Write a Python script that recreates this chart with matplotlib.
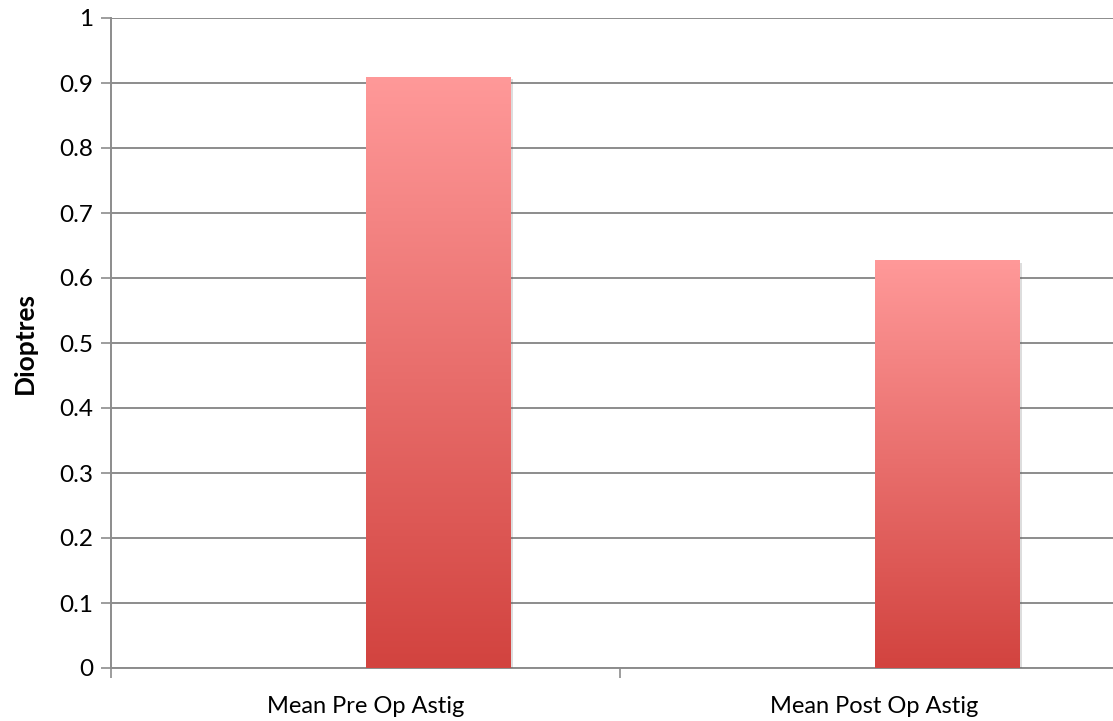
import matplotlib.pyplot as plt
import numpy as np
from matplotlib.colors import LinearSegmentedColormap
from matplotlib import patheffects

# データ
categories = ["Mean Pre Op Astig", "Mean Post Op Astig"]
values = [0.91, 0.628]
y_ticks = [0, 0.1, 0.2, 0.3, 0.4, 0.5, 0.6, 0.7, 0.8, 0.9, 1]
y_tick_labels = ["0", "0.1", "0.2", "0.3", "0.4", "0.5", "0.6", "0.7", "0.8", "0.9", "1"]

plt.rcParams["font.family"] = ["Lato", "DejaVu Sans"]

fig = plt.figure(figsize=(11.13, 7.21), dpi=100)
# 右端は図の外まで伸びる
ax = fig.add_axes([111 / 1113, 53 / 721, 1018 / 1113, 650 / 721])

x = np.arange(len(categories))
bar_w = 145 / 509

# 2系列の棒グラフの右側の系列だけが見えている形
bars = ax.bar(x, values, width=bar_w, align="edge", color="#f08080", zorder=3,
              linewidth=0)

# グラデーション
cmap = LinearSegmentedColormap.from_list("grad", ["#d2433f", "#ff9999"])
grad = np.linspace(0, 1, 256).reshape(-1, 1)
for b in bars:
    x0, y0 = b.get_x(), b.get_y()
    w, h = b.get_width(), b.get_height()
    b.set_path_effects([patheffects.SimplePatchShadow(offset=(2, -2), alpha=0.2,
                                                       shadow_rgbFace="#555555"),
                        patheffects.Normal()])
    im = ax.imshow(grad, extent=[x0, x0 + w, y0, y0 + h], origin="lower",
                   cmap=cmap, aspect="auto", zorder=4)
    im.set_clip_path(b)

ax.set_xlim(-0.5, 1.5)
ax.set_ylim(0, 1)

ax.set_yticks(y_ticks)
ax.set_yticklabels(y_tick_labels, fontsize=17.5)
ax.yaxis.grid(True, color="#8c8c8c", linewidth=1.4, zorder=0)
ax.set_axisbelow(True)

ax.set_xticks([-0.5, 0.5, 1.5])
ax.set_xticklabels([])
ax.set_xticks(x, minor=True)
ax.set_xticklabels(categories, minor=True, fontsize=17)
ax.tick_params(axis="x", which="minor", length=0, pad=20)
ax.tick_params(axis="x", which="major", length=7, width=1.2, color="#8c8c8c")
ax.tick_params(axis="y", length=7, width=1.2, color="#8c8c8c", pad=6)

for s in ["top", "right"]:
    ax.spines[s].set_visible(False)
for s in ["left", "bottom"]:
    ax.spines[s].set_color("#8c8c8c")
    ax.spines[s].set_linewidth(1.4)

ax.set_ylabel("Dioptres", fontsize=19, fontweight="bold", labelpad=16)

fig.savefig("out.png", dpi=100)
